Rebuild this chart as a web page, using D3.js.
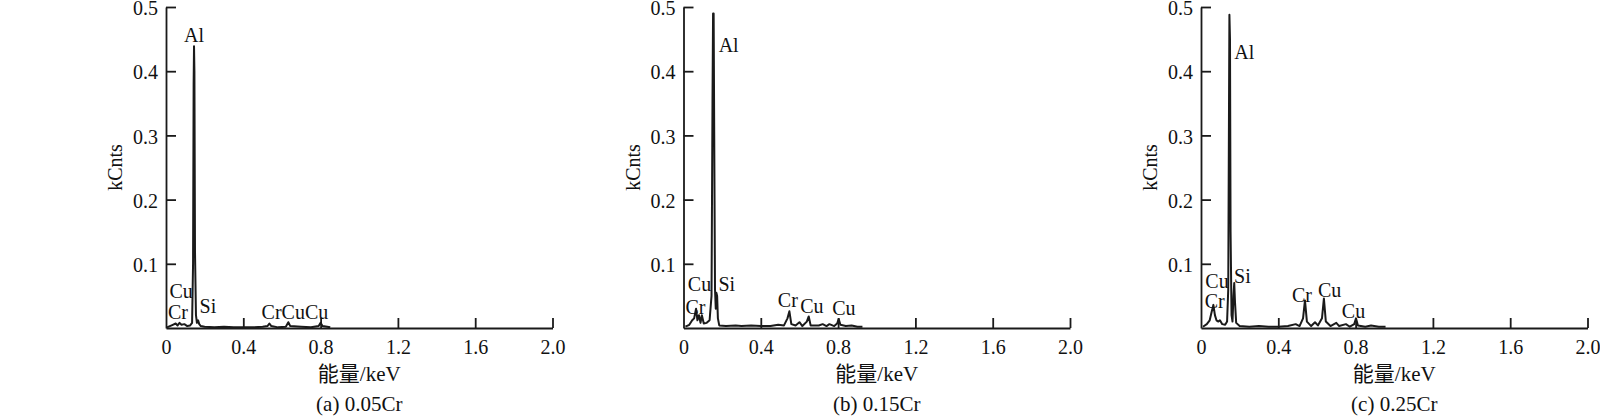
<!doctype html>
<html>
  <head>
    <meta charset="utf-8">
    <script src="https://cdnjs.cloudflare.com/ajax/libs/d3/7.8.5/d3.min.js"></script>
    <style>
      body { margin: 0; background: #fff; }
      text { font-family: "Liberation Serif", "Times New Roman", "Noto Sans CJK SC", serif; fill: #111; }
    </style>
  </head>
  <body>
    <script>
    // tick labels
    var xTicks = [0, 0.4, 0.8, 1.2, 1.6, 2.0];
    var xTickLabels = ["0", "0.4", "0.8", "1.2", "1.6", "2.0"];
    var yTicks = [0.1, 0.2, 0.3, 0.4, 0.5];
    var yTickLabels = ["0.1", "0.2", "0.3", "0.4", "0.5"];

    var captions = ["(a) 0.05Cr", "(b) 0.15Cr", "(c) 0.25Cr"];

    // spectrum (a) 0.05Cr : energy keV / kCnts
    var energyA = [0.005, 0.02, 0.035, 0.05, 0.06, 0.07, 0.08, 0.095, 0.11, 0.125, 0.135,
                   0.140, 0.143, 0.145, 0.147, 0.150, 0.155, 0.160, 0.166, 0.172, 0.18,
                   0.2, 0.25, 0.3, 0.35, 0.45, 0.5, 0.525, 0.535, 0.545, 0.58, 0.62,
                   0.633, 0.643, 0.7, 0.75, 0.79, 0.80, 0.81, 0.85];
    var countsA = [0.001, 0.003, 0.005, 0.007, 0.004, 0.008, 0.005, 0.006, 0.003, 0.004, 0.008,
                   0.10, 0.38, 0.439, 0.40, 0.12, 0.02, 0.008, 0.012, 0.006, 0.003,
                   0.002, 0.001, 0.002, 0.001, 0.001, 0.002, 0.003, 0.007, 0.003, 0.001, 0.002,
                   0.009, 0.003, 0.002, 0.001, 0.003, 0.008, 0.003, 0.001];

    // spectrum (b) 0.15Cr
    var energyB = [0.01, 0.03, 0.045, 0.055, 0.065, 0.072, 0.08, 0.088, 0.095, 0.105, 0.12,
                   0.135, 0.145, 0.150, 0.153, 0.156, 0.159, 0.163, 0.167, 0.170, 0.174,
                   0.178, 0.185, 0.22, 0.27, 0.3, 0.35, 0.4, 0.45, 0.49, 0.52, 0.538,
                   0.548, 0.558, 0.58, 0.6, 0.615, 0.638, 0.648, 0.658, 0.7, 0.72, 0.74,
                   0.755, 0.78, 0.795, 0.803, 0.812, 0.84, 0.87, 0.9, 0.926];
    var countsB = [0.002, 0.005, 0.012, 0.015, 0.03, 0.012, 0.02, 0.008, 0.02, 0.007, 0.008,
                   0.012, 0.05, 0.35, 0.49, 0.49, 0.30, 0.06, 0.03, 0.055, 0.05,
                   0.015, 0.004, 0.003, 0.004, 0.003, 0.004, 0.003, 0.003, 0.005, 0.004, 0.015,
                   0.026, 0.006, 0.004, 0.009, 0.003, 0.01, 0.018, 0.004, 0.004, 0.006, 0.003,
                   0.006, 0.003, 0.007, 0.014, 0.005, 0.003, 0.004, 0.002, 0.002];

    // spectrum (c) 0.25Cr
    var energyC = [0.01, 0.03, 0.045, 0.055, 0.064, 0.072, 0.08, 0.09, 0.098, 0.11, 0.125,
                   0.135, 0.141, 0.145, 0.147, 0.150, 0.153, 0.158, 0.163, 0.168, 0.172,
                   0.176, 0.182, 0.2, 0.25, 0.3, 0.35, 0.4, 0.45, 0.49, 0.51, 0.528,
                   0.538, 0.548, 0.57, 0.59, 0.605, 0.626, 0.636, 0.646, 0.67, 0.7, 0.715,
                   0.75, 0.77, 0.793, 0.802, 0.812, 0.85, 0.88, 0.92, 0.955];
    var countsC = [0.002, 0.006, 0.012, 0.025, 0.036, 0.02, 0.012, 0.01, 0.012, 0.006, 0.005,
                   0.01, 0.06, 0.35, 0.488, 0.45, 0.15, 0.02, 0.01, 0.05, 0.07,
                   0.04, 0.008, 0.003, 0.002, 0.003, 0.002, 0.002, 0.003, 0.006, 0.003, 0.015,
                   0.043, 0.01, 0.003, 0.009, 0.004, 0.015, 0.046, 0.01, 0.003, 0.008, 0.003,
                   0.006, 0.002, 0.006, 0.015, 0.004, 0.002, 0.004, 0.002, 0.002];

    // peak labels: text, energy, kCnts (baseline), anchor
    var labelsA = [["Al", 0.145, 0.446, "middle"], ["Cu", 0.078, 0.047, "middle"],
                   ["Cr", 0.062, 0.014, "middle"], ["Si", 0.217, 0.023, "middle"],
                   ["CrCuCu", 0.667, 0.014, "middle"]];
    var labelsB = [["Al", 0.182, 0.43, "start"], ["Si", 0.181, 0.058, "start"],
                   ["Cu", 0.083, 0.057, "middle"], ["Cr", 0.062, 0.022, "middle"],
                   ["Cr", 0.54, 0.032, "middle"], ["Cu", 0.664, 0.023, "middle"],
                   ["Cu", 0.83, 0.02, "middle"]];
    var labelsC = [["Al", 0.172, 0.419, "start"], ["Si", 0.171, 0.07, "start"],
                   ["Cu", 0.083, 0.063, "middle"], ["Cr", 0.071, 0.031, "middle"],
                   ["Cr", 0.522, 0.041, "middle"], ["Cu", 0.666, 0.049, "middle"],
                   ["Cu", 0.789, 0.015, "middle"]];

    var energies = [energyA, energyB, energyC];
    var counts = [countsA, countsB, countsC];
    var labels = [labelsA, labelsB, labelsC];

    var width = 1600;
    var height = 416;

    var svg = d3.select("body")
              .append("svg")
              .attr("width", width)
              .attr("height", height);

    var plotW = 386.5;
    var plotTop = 7;
    var plotBottom = 328;

    var x = d3.scaleLinear().domain([0, 2]).range([0, plotW]);
    var y = d3.scaleLinear().domain([0, 0.5]).range([plotBottom, plotTop]);

    var line = d3.line()
                 .x(function(d) { return x(d[0]); })
                 .y(function(d) { return y(d[1]); });

    captions.forEach(function(cap, i) {
      var left = 166 + i * 517.5;
      var g = svg.append("g").attr("transform", "translate(" + left + ",0)");

      // spectrum
      var pts = energies[i].map(function(e, j) { return [e, counts[i][j]]; });
      g.append("path")
        .datum(pts)
        .attr("fill", "none")
        .attr("stroke", "#1a1a1a")
        .attr("stroke-width", 2)
        .attr("stroke-linejoin", "round")
        .attr("d", line);

      // axes, ticks pointing inward
      var xAxis = d3.axisBottom(x)
                    .tickValues(xTicks)
                    .tickSizeInner(-10)
                    .tickSizeOuter(0)
                    .tickPadding(12)
                    .tickFormat(function(d, k) { return xTickLabels[k]; });
      var gx = g.append("g")
        .attr("transform", "translate(0," + plotBottom + ")")
        .call(xAxis);

      var yAxis = d3.axisLeft(y)
                    .tickValues(yTicks)
                    .tickSizeInner(-10)
                    .tickSizeOuter(0)
                    .tickPadding(8)
                    .tickFormat(function(d, k) { return yTickLabels[k]; });
      var gy = g.append("g").call(yAxis);

      [gx, gy].forEach(function(a) {
        a.select(".domain").attr("stroke", "#1a1a1a").attr("stroke-width", 1.8);
        a.selectAll(".tick line").attr("stroke", "#1a1a1a").attr("stroke-width", 1.8);
        a.selectAll(".tick text")
          .attr("fill", "#111")
          .style("font-family", '"Liberation Serif", "Times New Roman", serif')
          .style("font-size", "20px");
      });
      gy.selectAll(".tick text").attr("dy", "0.38em");
      gx.selectAll(".tick").filter(function(d) { return d === 0; }).select("line").remove();

      // peak labels
      g.selectAll(".peak")
        .data(labels[i])
        .enter()
        .append("text")
          .attr("class", "peak")
          .attr("x", function(d) { return x(d[1]); })
          .attr("y", function(d) { return y(d[2]); })
          .attr("text-anchor", function(d) { return d[3]; })
          .style("font-size", "20px")
          .text(function(d) { return d[0]; });

      // axis titles
      g.append("text")
        .attr("x", plotW / 2)
        .attr("y", 381)
        .attr("text-anchor", "middle")
        .style("font-size", "21px")
        .text("能量/keV");

      g.append("text")
        .attr("transform", "translate(-51," + (plotTop + plotBottom) / 2 + ") rotate(-90)")
        .attr("text-anchor", "middle")
        .attr("dominant-baseline", "central")
        .style("font-size", "20px")
        .text("kCnts");

      g.append("text")
        .attr("x", plotW / 2)
        .attr("y", 411)
        .attr("text-anchor", "middle")
        .style("font-size", "21px")
        .text(cap);
    });
    </script>
  </body>
</html>
